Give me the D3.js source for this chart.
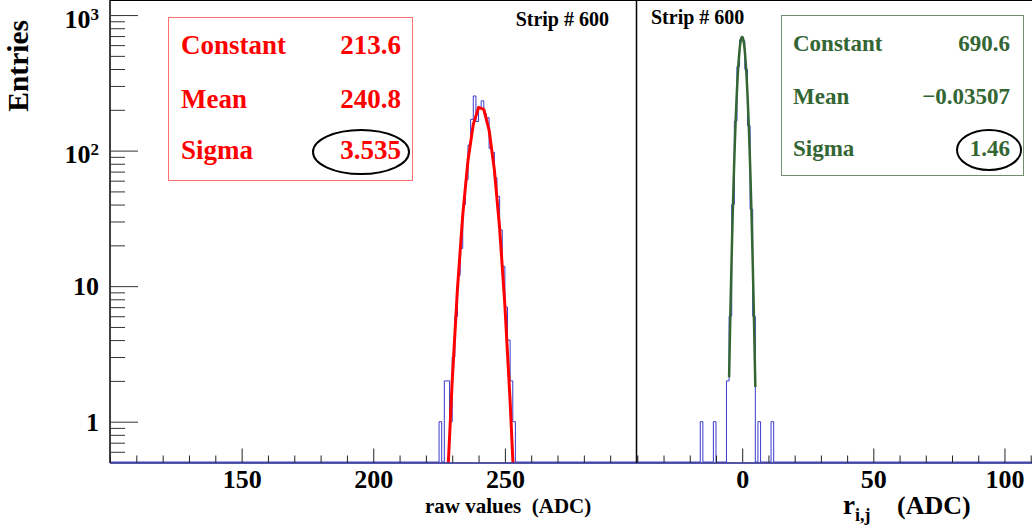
<!DOCTYPE html>
<html>
<head>
<meta charset="utf-8">
<script src="https://cdn.jsdelivr.net/npm/d3@7"></script>
<style>
  html, body { margin: 0; padding: 0; background: #fff; }
  svg { display: block; font-family: "Liberation Serif", "Times New Roman", serif; font-weight: bold; }
  text { white-space: pre; }
</style>
</head>
<body>
<svg id="chart" width="1032" height="531"></svg>
<script>
// ---- raw ADC values of strip 600 (lower bin edge, entries) ----
const rawBins   = [225, 226, 227, 228, 229, 230, 231, 232, 233, 234, 235, 236, 237, 238, 239,
                   240, 241, 242, 243, 244, 245, 246, 247, 248, 249, 250, 251, 252, 253];
const rawCounts = [1, 0, 2, 2, 1, 3, 6, 12, 19, 40, 61, 110, 170, 253, 164,
                   205, 233, 187, 175, 104, 97, 63, 46, 26, 14, 7, 4, 2, 1];

// ---- residuals r_ij of strip 600 (lower bin edge, entries) ----
const resBins   = [-16, -11, -6, -5, -4, -3, -2, -1, 0, 1, 2, 3, 4, 6, 11];
const resCounts = [1, 1, 2, 6, 40, 165, 418, 657, 646, 397, 153, 37, 6, 1, 1];

// ---- gaussian fit parameters ----
const statNames    = ["Constant", "Mean", "Sigma"];
const rawFitValues = [213.6, 240.8, 3.535];
const resFitValues = [690.6, -0.03507, 1.46];

// ---- axes ----
const rawRange      = [100, 300];
const resRange      = [-40.5, 110.5];
const resFitRange   = [-5, 5];
const rawMajorTicks = [150, 200, 250];
const resMajorTicks = [0, 50, 100];
const yDecades      = [1, 10, 100, 1000];
const yRange        = [0.5, 1270];
const stripTitle    = "Strip # 600";

const svg = d3.select("#chart");
const serif = "'Liberation Serif', 'Times New Roman', serif";

const frameTop = 1, frameBottom = 462.5;
const xL = d3.scaleLinear().domain(rawRange).range([110, 636.5]);
const xR = d3.scaleLinear().domain(resRange).range([636, 1032]);
const y  = d3.scaleLog().domain(yRange).range([frameBottom, frameTop]);

const defs = svg.append("defs");
defs.append("clipPath").attr("id", "clipL").append("rect")
  .attr("x", 110).attr("y", frameTop).attr("width", 526.5).attr("height", frameBottom - frameTop);
defs.append("clipPath").attr("id", "clipR").append("rect")
  .attr("x", 636).attr("y", frameTop).attr("width", 396).attr("height", frameBottom - frameTop);

// histogram outline as a step line over the full axis range
function histPoints(bins, counts, lo, hi) {
  const m = new Map(bins.map((b, i) => [b, counts[i]]));
  const pts = [];
  for (let k = Math.ceil(lo); k < hi; k++) pts.push([k, m.get(k) || 0]);
  pts.unshift([lo, m.get(Math.floor(lo)) || 0]);
  pts.push([hi, 0]);
  return pts;
}
function drawHist(x, bins, counts, domain, clip) {
  const line = d3.line()
    .x(d => x(d[0]))
    .y(d => d[1] >= yRange[0] ? y(d[1]) : frameBottom - 0.5)
    .curve(d3.curveStepAfter);
  svg.append("path")
    .attr("clip-path", `url(#${clip})`)
    .attr("d", line(histPoints(bins, counts, domain[0], domain[1])))
    .attr("fill", "none")
    .attr("stroke", "#3a3acc")
    .attr("stroke-width", 1);
}

function gauss(p) {
  return v => p[0] * Math.exp(-0.5 * Math.pow((v - p[1]) / p[2], 2));
}
function drawFit(x, params, from, to, step, color, width, clip) {
  const f = gauss(params);
  const pts = d3.range(from, to + step / 2, step).map(v => [v, Math.max(f(v), 1e-3)]);
  svg.append("path")
    .attr("clip-path", `url(#${clip})`)
    .attr("d", d3.line().x(d => x(d[0])).y(d => y(d[1]))(pts))
    .attr("fill", "none")
    .attr("stroke", color)
    .attr("stroke-width", width)
    .attr("stroke-linejoin", "round");
}

drawHist(xL, rawBins, rawCounts, rawRange, "clipL");
drawHist(xR, resBins, resCounts, resRange, "clipR");
drawFit(xL, rawFitValues, rawRange[0], rawRange[1], 2, "#ff0000", 3, "clipL");
drawFit(xR, resFitValues, resFitRange[0], resFitRange[1], 0.1, "#336633", 2.5, "clipR");

// frame lines
svg.append("line").attr("x1", 110).attr("x2", 110).attr("y1", 0).attr("y2", frameBottom + 0.5)
  .attr("stroke", "#000").attr("stroke-width", 1.5);
svg.append("line").attr("x1", 636.5).attr("x2", 636.5).attr("y1", 0).attr("y2", frameBottom + 0.5)
  .attr("stroke", "#000").attr("stroke-width", 1.5);
svg.append("line").attr("x1", 110).attr("x2", 1032).attr("y1", 0.5).attr("y2", 0.5)
  .attr("stroke", "#000").attr("stroke-width", 1);
svg.append("line").attr("x1", 110).attr("x2", 1032).attr("y1", frameBottom + 0.5).attr("y2", frameBottom + 0.5)
  .attr("stroke", "#1c1c8a").attr("stroke-width", 1.5);

// x axes: labelled ticks every 50, small ticks every 10
function xAxis(x, majors, domain) {
  const minors = d3.range(Math.ceil(domain[0] / 10) * 10, domain[1] + 0.01, 10)
    .filter(v => !majors.includes(v));
  const gMin = svg.append("g").attr("transform", `translate(0,${frameBottom})`)
    .call(d3.axisBottom(x).tickValues(minors).tickSize(-7).tickSizeOuter(0).tickFormat(""));
  const gMaj = svg.append("g").attr("transform", `translate(0,${frameBottom})`)
    .call(d3.axisBottom(x).tickValues(majors).tickSize(-14).tickSizeOuter(0)
      .tickPadding(7).tickFormat(d3.format("d")));
  [gMin, gMaj].forEach(g => {
    g.attr("font-family", serif).attr("font-size", 26).attr("font-weight", "bold");
    g.select(".domain").remove();
    g.selectAll(".tick line").attr("stroke", "#222").attr("stroke-width", 1);
  });
  gMaj.selectAll("text").attr("fill", "#000");
}
xAxis(xL, rawMajorTicks, rawRange);
xAxis(xR, resMajorTicks, [-40, 110]);

// log y axis on the left frame
const yMinorVals = [];
yDecades.forEach(d => {
  for (let m = 2; m <= 9; m++) yMinorVals.push(d * m);
  for (let m = 6; m <= 9; m++) if (d === 1) yMinorVals.push(m / 10);
});
const yMinorShown = yMinorVals.filter(v => v >= yRange[0] && v <= yRange[1]);
const gyMin = svg.append("g").attr("transform", "translate(110,0)")
  .call(d3.axisLeft(y).tickValues(yMinorShown).tickSize(-15).tickSizeOuter(0).tickFormat(""));
const gyMaj = svg.append("g").attr("transform", "translate(110,0)")
  .call(d3.axisLeft(y).tickValues(yDecades).tickSize(-28).tickSizeOuter(0).tickFormat(""));
[gyMin, gyMaj].forEach(g => {
  g.select(".domain").remove();
  g.selectAll(".tick line").attr("stroke", "#333").attr("stroke-width", 1);
});

yDecades.forEach(d => {
  const e = Math.round(Math.log10(d));
  const t = svg.append("text").attr("x", 99).attr("text-anchor", "end")
    .attr("font-size", 26).attr("fill", "#000");
  if (e <= 1) {
    t.attr("y", y(d) + 9).text(String(d));
  } else {
    t.attr("y", y(d) + 12.5);
    t.append("tspan").text("10");
    t.append("tspan").attr("font-size", 17).attr("dy", -8).text(String(e));
  }
});

// axis titles
svg.append("text").attr("transform", "translate(28,20) rotate(-90)")
  .attr("text-anchor", "end").attr("font-size", 29.5).attr("fill", "#000").text("Entries");
svg.append("text").attr("x", 425).attr("y", 513).attr("font-size", 21).attr("fill", "#000")
  .text("raw values  (ADC)");
const rt = svg.append("text").attr("x", 843).attr("y", 514).attr("font-size", 27).attr("fill", "#000");
rt.append("tspan").text("r");
rt.append("tspan").attr("font-size", 18).attr("dy", 7).text("i,j");
svg.append("text").attr("x", 897).attr("y", 514).attr("font-size", 26).attr("fill", "#000").text("(ADC)");

// pad titles
svg.append("text").attr("x", 609).attr("y", 26).attr("text-anchor", "end")
  .attr("font-size", 20).attr("fill", "#000").text(stripTitle);
svg.append("text").attr("x", 651).attr("y", 24)
  .attr("font-size", 20).attr("fill", "#000").text(stripTitle);

// fit statistics boxes
function fmt(v) { return String(v).replace("-", "\u2212"); }
function statBox(box, color, border, size, rows, valueX, labelX, values, ellipse) {
  svg.append("rect").attr("x", box[0] + 0.5).attr("y", box[1] + 0.5)
    .attr("width", box[2] - box[0]).attr("height", box[3] - box[1])
    .attr("fill", "#fff").attr("stroke", border).attr("stroke-width", 1);
  statNames.forEach((n, i) => {
    svg.append("text").attr("x", labelX).attr("y", rows[i]).attr("font-size", size)
      .attr("fill", color).text(n);
    svg.append("text").attr("x", valueX).attr("y", rows[i]).attr("font-size", size)
      .attr("text-anchor", "end").attr("fill", color).text(fmt(values[i]));
  });
  svg.append("ellipse").attr("cx", ellipse[0]).attr("cy", ellipse[1])
    .attr("rx", ellipse[2]).attr("ry", ellipse[3])
    .attr("fill", "none").attr("stroke", "#000").attr("stroke-width", 2);
}
statBox([168, 17, 412, 180], "#ff0000", "#ff7070", 27, [54, 108, 159], 401, 181,
        rawFitValues, [361, 152, 48, 22]);
statBox([781, 15, 1023, 175], "#336633", "#6f8f6f", 23, [51, 104, 156], 1010, 793,
        resFitValues, [989, 150, 32, 20]);
</script>
</body>
</html>
